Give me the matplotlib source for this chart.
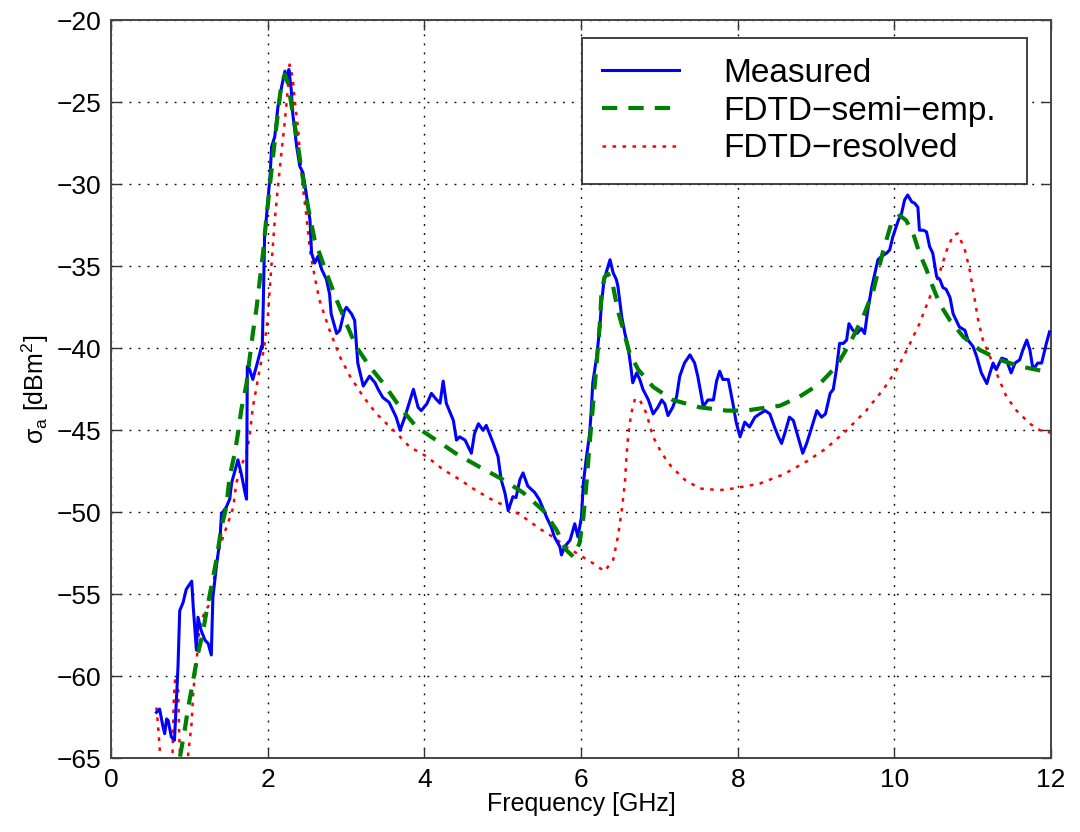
import matplotlib
matplotlib.use("Agg")
import matplotlib.pyplot as plt

# ---- data: frequency [GHz], sigma_a [dBm^2] ----
meas_f = [0.58, 0.62, 0.66, 0.685, 0.71, 0.73, 0.77, 0.81, 0.835, 0.855, 0.877, 0.92, 0.96,
          1.03, 1.05, 1.09, 1.11, 1.15, 1.20, 1.24, 1.28, 1.30, 1.345, 1.39, 1.41, 1.47,
          1.515, 1.54, 1.58, 1.62, 1.665, 1.71, 1.73, 1.735, 1.74, 1.77, 1.81, 1.856, 1.90,
          1.92, 1.93, 1.945, 1.96, 1.98, 2.03, 2.05, 2.09, 2.13, 2.18, 2.22, 2.26, 2.27, 2.30,
          2.32, 2.37, 2.41, 2.45, 2.49, 2.54, 2.56, 2.60, 2.64, 2.69, 2.75, 2.79, 2.81, 2.88,
          2.92, 2.98, 3.005, 3.07, 3.11, 3.15, 3.22, 3.30, 3.37, 3.41, 3.47, 3.55, 3.64, 3.69,
          3.75, 3.86, 3.92, 3.96, 4.03, 4.09, 4.15, 4.20, 4.24, 4.28, 4.37, 4.41, 4.45, 4.52,
          4.60, 4.64, 4.69, 4.75, 4.79, 4.88, 4.94, 4.98, 5.03, 5.07, 5.13, 5.17, 5.22, 5.26,
          5.32, 5.41, 5.47, 5.56, 5.62, 5.66, 5.73, 5.75, 5.79, 5.86, 5.92, 5.96, 6.005, 6.03,
          6.07, 6.11, 6.13, 6.15, 6.20, 6.24, 6.26, 6.29, 6.32, 6.37, 6.41, 6.45, 6.47, 6.52,
          6.56, 6.60, 6.64, 6.66, 6.71, 6.75, 6.79, 6.86, 6.92, 6.98, 7.03, 7.07, 7.11, 7.17,
          7.22, 7.26, 7.32, 7.39, 7.45, 7.49, 7.56, 7.62, 7.69, 7.73, 7.77, 7.81, 7.88, 7.94,
          7.98, 8.03, 8.09, 8.15, 8.22, 8.28, 8.35, 8.41, 8.47, 8.52, 8.56, 8.60, 8.66, 8.71,
          8.77, 8.83, 8.88, 8.92, 9.01, 9.07, 9.12, 9.18, 9.22, 9.26, 9.30, 9.35, 9.39, 9.42,
          9.47, 9.52, 9.58, 9.62, 9.66, 9.71, 9.75, 9.79, 9.835, 9.90, 9.94, 9.98, 10.05,
          10.09, 10.13, 10.17, 10.22, 10.26, 10.30, 10.32, 10.37, 10.41, 10.45, 10.49, 10.54,
          10.58, 10.62, 10.66, 10.71, 10.75, 10.79, 10.83, 10.90, 10.94, 11.005, 11.05, 11.11,
          11.18, 11.22, 11.26, 11.30, 11.37, 11.43, 11.49, 11.54, 11.60, 11.64, 11.69, 11.73,
          11.77, 11.83, 11.88, 11.94, 11.98]
meas_db = [-62.2, -62.0, -63.0, -63.5, -62.6, -62.7, -63.7, -63.9, -61.4, -59.4, -56.0, -55.5, -54.7,
           -54.2, -55.8, -58.4, -56.4, -57.2, -57.8, -58.0, -58.7, -55.2, -53.3, -51.7, -50.1, -49.7,
           -49.2, -48.2, -47.5, -46.8, -47.7, -48.8, -49.2, -45.2, -41.1, -41.3, -41.9, -41.1, -40.3,
           -39.9, -40.0, -37.0, -33.2, -32.2, -29.5, -27.7, -27.1, -25.3, -24.0, -23.1, -23.6, -23.0, -24.2,
           -25.7, -27.7, -28.9, -29.3, -30.5, -32.2, -34.2, -34.8, -34.4, -35.2, -35.8, -36.7, -37.9, -39.1,
           -38.9, -37.7, -37.5, -37.9, -38.3, -40.9, -42.3, -41.7, -42.1, -42.5, -43.0, -43.3, -44.2, -45.0,
           -44.2, -42.5, -43.6, -43.8, -43.4, -42.75, -43.1, -43.35, -42.0, -43.35, -44.4, -45.6, -45.4, -45.6,
           -46.4, -45.2, -44.6, -45.0, -44.7, -45.8, -46.6, -48.0, -48.85, -49.9, -49.05, -49.1, -48.0, -47.6,
           -48.4, -48.8, -49.25, -50.3, -50.9, -51.5, -52.1, -52.6, -52.1, -51.7, -50.7, -51.5, -50.3, -48.2,
           -46.6, -45.2, -43.8, -42.1, -40.5, -38.7, -37.3, -36.0, -35.4, -34.6, -35.4, -35.8, -36.2, -38.1,
           -39.1, -39.9, -41.3, -42.1, -41.5, -41.9, -42.5, -43.15, -44.0, -43.6, -43.15, -43.4, -44.1, -43.6,
           -42.95, -41.7, -40.9, -40.4, -40.9, -41.7, -43.55, -43.15, -43.15, -42.0, -41.4, -41.9, -41.9, -43.4,
           -44.5, -45.4, -44.5, -44.8, -44.2, -44.0, -43.8, -44.0, -44.8, -45.4, -45.8, -45.2, -44.2, -44.4,
           -45.4, -46.4, -45.8, -45.2, -43.8, -44.2, -44.0, -42.75, -42.5, -41.3, -39.7, -39.7, -39.5, -38.5,
           -38.9, -39.1, -38.8, -39.1, -37.7, -36.3, -35.45, -34.6, -34.4, -34.2, -34.0, -33.2, -32.2,
           -31.8, -30.96, -30.65, -31.06, -31.16, -31.4, -32.8, -32.8, -32.9, -33.8, -34.2, -35.65,
           -35.8, -36.3, -36.4, -36.9, -37.9, -38.3, -38.7, -38.9, -39.5, -39.9, -40.5, -41.5,
           -42.15, -41.5, -40.9, -41.3, -40.6, -40.7, -41.5, -40.9, -40.7, -40.1, -39.5, -40.1,
           -41.3, -40.9, -40.9, -39.7, -39.0]

semi_f = [0.85, 0.877, 0.94, 0.98, 1.05, 1.11, 1.17, 1.22, 1.28, 1.345, 1.41, 1.47, 1.515, 1.58,
          1.62, 1.665, 1.73, 1.77, 1.81, 1.856, 1.94, 1.98, 2.05, 2.11, 2.175, 2.22, 2.26, 2.30,
          2.37, 2.43, 2.515, 2.60, 2.66, 2.75, 2.88, 3.005, 3.13, 3.30, 3.47, 3.69, 3.90, 4.15,
          4.43, 4.73, 5.00, 5.26, 5.52, 5.69, 5.81, 5.90, 5.98, 6.03, 6.07, 6.11, 6.15, 6.20,
          6.24, 6.26, 6.30, 6.345, 6.41, 6.47, 6.54, 6.62, 6.73, 6.92, 7.17, 7.515, 7.86, 8.11,
          8.24, 8.54, 8.79, 9.05, 9.26, 9.43, 9.60, 9.73, 9.86, 9.96, 10.07, 10.15, 10.24, 10.32,
          10.41, 10.49, 10.58, 10.71, 10.88, 11.09, 11.345, 11.60, 11.81, 12.0]
semi_db = [-66.5, -65.0, -63.3, -62.05, -60.2, -58.6, -57.4, -56.0, -54.55, -52.9, -50.9, -49.7, -47.8, -46.4,
           -45.2, -43.7, -42.15, -40.6, -39.1, -37.6, -34.2, -32.2, -29.1, -26.5, -23.85, -23.3, -23.86, -25.06,
           -27.1, -29.1, -31.4, -33.4, -34.2, -35.4, -37.05, -38.5, -39.9, -41.1, -42.1, -43.6, -44.8, -45.6,
           -46.5, -47.3, -48.0, -48.8, -49.9, -51.1, -52.3, -52.7, -51.9, -50.3, -48.2, -45.8, -43.6, -40.9,
           -38.5, -36.7, -35.65, -35.45, -36.25, -37.7, -38.9, -40.3, -41.3, -42.35, -43.15, -43.6, -43.8, -43.8,
           -43.7, -43.5, -42.95, -42.15, -41.1, -39.7, -38.1, -36.5, -34.0, -32.4, -31.9, -32.2, -33.0, -34.2,
           -35.2, -36.25, -37.3, -38.3, -39.3, -40.1, -40.7, -41.1, -41.3, -41.5]

res_f = [0.58, 0.60, 0.62, 0.64, 0.78, 0.80, 0.82, 0.855, 0.87, 0.89, 0.96, 0.98, 1.03, 1.05, 1.09,
         1.13, 1.20, 1.24, 1.28, 1.32, 1.365, 1.43, 1.49, 1.56, 1.60, 1.685, 1.73, 1.77, 1.81, 1.856,
         1.90, 1.95, 2.00, 2.05, 2.09, 2.13, 2.175, 2.22, 2.26, 2.28, 2.32, 2.345, 2.39, 2.41, 2.45,
         2.49, 2.54, 2.60, 2.66, 2.79, 2.92, 3.05, 3.22, 3.39, 3.69, 3.81, 4.03, 4.24, 4.45, 4.62,
         4.83, 5.05, 5.26, 5.47, 5.64, 5.81, 5.98, 6.15, 6.30, 6.41, 6.47, 6.52, 6.56, 6.58, 6.60,
         6.64, 6.69, 6.75, 6.835, 6.92, 7.03, 7.15, 7.32, 7.515, 7.77, 7.94, 8.28, 8.58, 8.88, 9.13,
         9.39, 9.64, 9.86, 10.03, 10.20, 10.32, 10.45, 10.56, 10.67, 10.75, 10.81, 10.90, 10.96,
         11.005, 11.07, 11.13, 11.22, 11.32, 11.43, 11.56, 11.73, 11.86, 11.96, 12.0]
res_db = [-61.9, -63.0, -64.3, -66.0, -66.0, -61.5, -60.0, -60.4, -63.5, -66.0, -66.0, -65.0, -62.8, -60.9, -59.2,
          -57.0, -56.0, -55.75, -55.35, -53.9, -52.5, -51.5, -50.7, -49.7, -48.2, -46.9, -46.4, -45.3, -43.6, -42.4,
          -41.2, -40.1, -38.2, -34.8, -32.2, -30.2, -28.1, -26.1, -24.05, -22.7, -23.55, -24.9, -26.7, -28.1, -30.2,
          -31.8, -34.0, -35.65, -37.05, -38.9, -40.5, -41.7, -42.95, -44.0, -45.4, -46.0, -46.6, -47.4, -48.0, -48.55,
          -49.15, -49.66, -50.27, -50.99, -51.5, -52.1, -52.6, -53.1, -53.6, -52.9, -51.5, -49.86, -48.2, -46.6, -45.4,
          -43.98, -43.06, -43.15, -43.98, -45.4, -46.4, -47.2, -48.0, -48.55, -48.65, -48.55, -48.25, -47.7, -46.9, -46.1,
          -45.0, -43.8, -42.5, -41.3, -39.7, -38.5, -36.9, -35.65, -34.0, -33.1, -33.0, -34.0, -35.2,
          -36.45, -38.3, -39.5, -40.5, -41.7, -42.95, -43.8, -44.6, -45.0, -45.1, -45.15]

labels = ["Measured", "FDTD\u2212semi\u2212emp.", "FDTD\u2212resolved"]
xticks = [0, 2, 4, 6, 8, 10, 12]
yticks = [-65, -60, -55, -50, -45, -40, -35, -30, -25, -20]

plt.rcParams["font.family"] = ["Liberation Sans", "DejaVu Sans"]
plt.rcParams["mathtext.fontset"] = "custom"
plt.rcParams["mathtext.rm"] = "Liberation Sans"
plt.rcParams["mathtext.it"] = "Liberation Sans:italic"
plt.rcParams["lines.scale_dashes"] = False

fig = plt.figure(figsize=(10.8, 8.32), dpi=100)
ax = fig.add_axes([0.1028, 0.0886, 0.8704, 0.8870])

ax.plot(meas_f, meas_db, color="#0000ff", lw=2.2, label=labels[0], zorder=3)
ax.plot(semi_f, semi_db, color="#008000", lw=3.0, dashes=(11, 8), label=labels[1], zorder=4)
ax.plot(res_f, res_db, color="#ff0000", lw=1.8, dashes=(2.6, 4.6), label=labels[2], zorder=2)

ax.set_xlim(0, 12)
ax.set_ylim(-65, -20)
ax.set_xticks(xticks)
ax.set_yticks(yticks)
ax.grid(True, color="black", lw=1.0, linestyle=(0, (1.3, 5.2)))
ax.tick_params(direction="in", length=7, width=1.0, labelsize=19, pad=7,
               top=True, right=True, color="#333333")
for sp in ax.spines.values():
    sp.set_color("#444444")
    sp.set_linewidth(1.4)

ax.set_xlabel("Frequency [GHz]", fontsize=18, labelpad=0)
ax.set_ylabel(r"$\mathregular{\sigma_a}$ [dBm$\mathregular{^2}$]", fontsize=18, labelpad=4)

leg = ax.legend(loc="upper left", bbox_to_anchor=(0.501, 0.782, 0.4735, 0.194), mode="expand",
                fontsize=24, frameon=True, fancybox=False, framealpha=1.0,
                edgecolor="#333333", borderpad=0.6, labelspacing=0.2,
                handlelength=2.3, handletextpad=1.33, borderaxespad=0.0)
leg.get_frame().set_linewidth(1.3)

fig.savefig("out.png", dpi=100)
